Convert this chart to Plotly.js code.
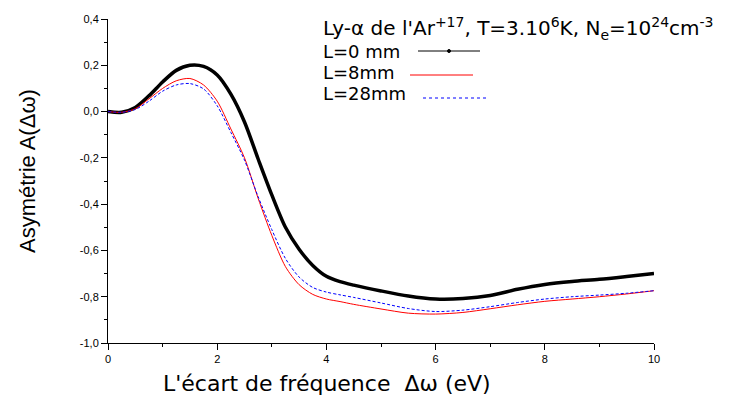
<!DOCTYPE html>
<html><head><meta charset="utf-8">
<script src="https://cdn.plot.ly/plotly-3.0.1.min.js"></script>
<style>body{margin:0;background:#fff}#c{width:730px;height:405px}</style>
</head><body><div id="c"></div>
<script>
const xVals = [0,0.25,0.5,0.75,1,1.25,1.5,1.75,2,2.25,2.5,2.75,3,3.25,3.5,3.75,4,4.25,4.5,5,5.5,6,6.5,7,7.5,8,8.5,9,9.5,10];
const yL0  = [0,-0.003,0.018,0.068,0.128,0.178,0.2,0.195,0.158,0.075,-0.045,-0.205,-0.36,-0.5,-0.595,-0.665,-0.712,-0.735,-0.75,-0.775,-0.797,-0.81,-0.808,-0.795,-0.768,-0.747,-0.734,-0.725,-0.713,-0.70];
const yL8  = [0,-0.003,0.012,0.055,0.1,0.133,0.143,0.115,0.045,-0.075,-0.2,-0.375,-0.535,-0.67,-0.748,-0.79,-0.81,-0.821,-0.833,-0.853,-0.871,-0.875,-0.868,-0.852,-0.835,-0.82,-0.81,-0.80,-0.788,-0.774];
const yL28 = [0,-0.003,0.009,0.045,0.088,0.115,0.121,0.098,0.025,-0.09,-0.21,-0.368,-0.51,-0.635,-0.715,-0.76,-0.78,-0.792,-0.803,-0.827,-0.851,-0.864,-0.858,-0.843,-0.825,-0.81,-0.80,-0.793,-0.785,-0.774];
const seriesNames = ["L=0 mm","L=8mm","L=28mm"];
const legendTitle = "Ly-\u03b1 de l'Ar<sup>+17</sup>, T=3.10<sup>6</sup>K, N<sub>e</sub>=10<sup>24</sup>cm<sup>-3</sup>";
const xTitle = "L'\u00e9cart de fr\u00e9quence  \u0394\u03c9 (eV)";
const yTitle = "Asym\u00e9trie A(\u0394\u03c9)";
const yTicks = [-1.0,-0.8,-0.6,-0.4,-0.2,0.0,0.2,0.4];
const xTicks = [0,2,4,6,8,10];

const F = "Liberation Sans, Arial, sans-serif";
const FW = "DejaVu Sans, sans-serif";
const M = {l:108,r:76,t:19,b:62};
const PW = 730 - M.l - M.r, PH = 405 - M.t - M.b;
const px = v => (v - M.l)/PW, py = v => 1 - (v - M.t)/PH;

const traces = [
  {x:xVals,y:yL0,mode:'lines',line:{color:'#000',width:3.5,shape:'spline',smoothing:0.8},name:seriesNames[0]},
  {x:xVals,y:yL8,mode:'lines',line:{color:'#ff0000',width:1,shape:'spline',smoothing:0.8},name:seriesNames[1]},
  {x:xVals,y:yL28,mode:'lines',line:{color:'#0000ff',width:1,dash:'3px,2px',shape:'spline',smoothing:0.8},name:seriesNames[2]}
];
const legRows = [51,73,93];
const lineRows = [51,75,98];
const legText = 322;
const legLine = [[418,480],[410,473],[423,486]];
const annotations = [
  {xref:'paper',yref:'paper',x:px(legText),y:py(28),xanchor:'left',yanchor:'middle',showarrow:false,borderpad:0,text:legendTitle,font:{family:FW,size:20,color:'#000'}},
  {xref:'paper',yref:'paper',x:px(327),y:py(384),xanchor:'center',yanchor:'middle',showarrow:false,borderpad:0,text:xTitle,font:{family:FW,size:22,color:'#000'}},
  {xref:'paper',yref:'paper',x:px(27),y:py(171),xanchor:'center',yanchor:'middle',textangle:-90,showarrow:false,borderpad:0,text:yTitle,font:{family:F,size:22,color:'#000'}},
];
const shapes = [];
const colors = ['#000','#ff0000','#0000ff'];
const dashes = ['solid','solid','dot'];
seriesNames.forEach((n,i)=>{
  annotations.push({xref:'paper',yref:'paper',x:px(legText),y:py(legRows[i]),xanchor:'left',yanchor:'middle',showarrow:false,borderpad:0,text:n,font:{family:FW,size:18,color:'#000'}});
  shapes.push({type:'line',xref:'paper',yref:'paper',x0:px(legLine[i][0]),x1:px(legLine[i][1]),y0:py(lineRows[i]),y1:py(lineRows[i]),line:{color:colors[i],width:1,dash:dashes[i]}});
});
const mx = (legLine[0][0]+legLine[0][1])/2;
shapes.push({type:'circle',xref:'paper',yref:'paper',x0:px(mx-1.5),x1:px(mx+1.5),y0:py(lineRows[0]-1.5),y1:py(lineRows[0]+1.5),fillcolor:'#000',line:{color:'#000',width:1}});

const layout = {
  width:730,height:405,
  margin:{l:M.l,r:M.r,t:M.t,b:M.b,pad:0},
  paper_bgcolor:'#fff',plot_bgcolor:'#fff',
  showlegend:false,
  font:{family:F,color:'#000'},
  xaxis:{range:[0,10],tickvals:xTicks,ticktext:xTicks.map(String),ticks:'outside',ticklen:6,tickwidth:1,tickcolor:'#000',
    showline:true,linecolor:'#000',linewidth:1,showgrid:false,zeroline:false,tickfont:{family:F,size:11},
    minor:{dtick:1,ticks:'outside',ticklen:3,tickcolor:'#000',showgrid:false}},
  yaxis:{range:[-1,0.4],tickvals:yTicks,ticktext:yTicks.map(v=>v.toFixed(1).replace('.',',')),ticks:'outside',ticklen:6,tickwidth:1,tickcolor:'#000',
    showline:true,linecolor:'#000',linewidth:1,showgrid:false,zeroline:false,tickfont:{family:F,size:11},
    minor:{dtick:0.1,ticks:'outside',ticklen:3,tickcolor:'#000',showgrid:false}},
  annotations:annotations,shapes:shapes
};
Plotly.newPlot('c',traces,layout,{staticPlot:true,displayModeBar:false});
</script></body></html>
